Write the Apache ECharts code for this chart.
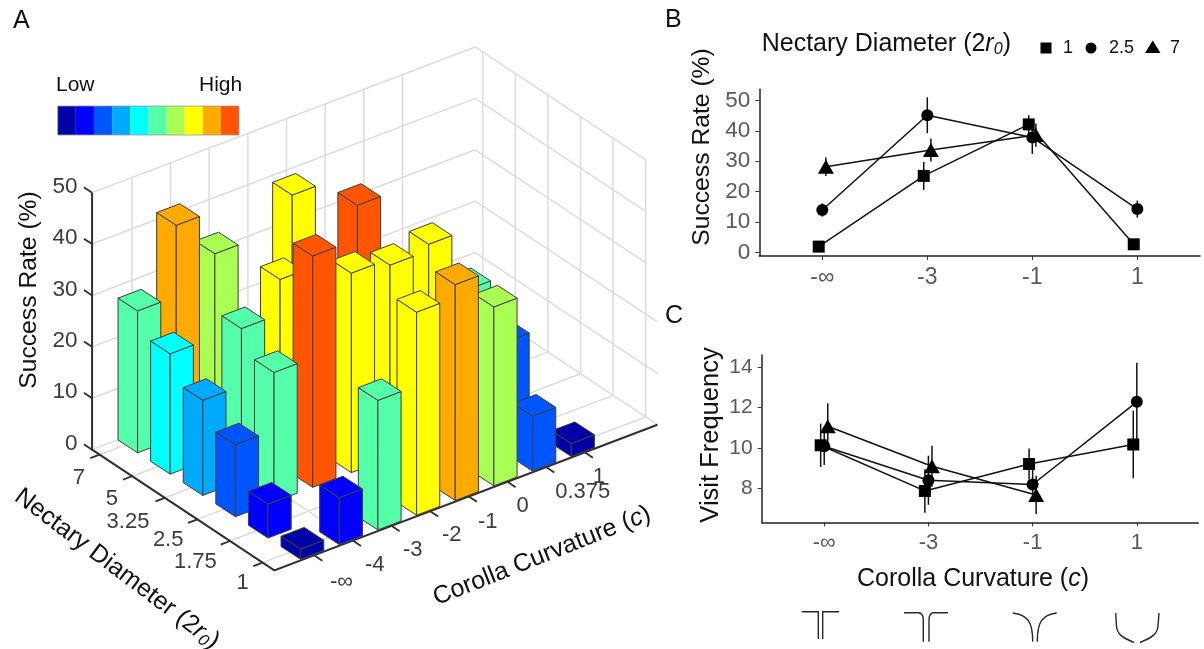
<!DOCTYPE html>
<html>
<head>
<meta charset="utf-8">
<style>html,body{margin:0;padding:0;background:#fff}#c{width:1204px;height:649px}</style>
<script src="https://cdn.jsdelivr.net/npm/echarts@6/dist/echarts.min.js"></script>
</head>
<body>
<div id="c"></div>
<script>
// ---------- data: panel A ----------
const curvatureLabels = ['-∞', '-4', '-3', '-2', '-1', '0', '0.375', '1'];
const diameterLabels = ['1', '1.75', '2.5', '3.25', '5', '7'];
const successD1    = [2, 9.1, 25.2, 39.5, 42, 34.8, 10.7, 2.5];
const successD175  = [6.6, null, null, null, null, null, null, null];
const successD25   = [14, 25.2, 45, 38.8, 37.5, 38.7, 27, 14];
const successD325  = [18.5, 29.6, 36.3, null, 45, null, null, null];
const successD5    = [23.4, null, null, null, null, null, null, null];
const successD7    = [27.6, 41.4, 33, null, 38.7, null, null, null];
const zTicks = [0, 10, 20, 30, 40, 50];
const palette = ['#0000A6', '#0000FF', '#0055FF', '#00AAFF', '#00FFFF', '#55FFAA', '#AAFF55', '#FFFF00', '#FFAA00', '#FF5500'];

// ---------- data: panels B, C ----------
const panelCurvature = ['-∞', '-3', '-1', '1'];
const successTicks = [0, 10, 20, 30, 40, 50];
const visitTicks = [8, 10, 12, 14];
const bSquare = [2, 25.2, 42.1, 2.75];
const bSquareErr = [0.5, 4.6, 3, 0.5];
const bCircle = [14, 45.1, 37.8, 14.3];
const bCircleErr = [2.2, 5.9, 5.4, 2.8];
const bTriangle = [28.2, 33.7, 38.6];
const bTriangleErr = [3, 3.8, 3.8];
const cSquare = [10.13, 7.86, 9.2, 10.17];
const cSquareErr = [1.08, 1.08, 0.77, 1.68];
const cCircle = [10.08, 8.39, 8.18, 12.29];
const cCircleErr = [0.93, 1.22, 0.73, 1.94];
const cTriangle = [11.08, 9.09, 7.66];
const cTriangleErr = [1.14, 1.02, 0.95];

// ---------- layout ----------
const FONT = '"Liberation Sans", Arial, sans-serif';
const PX_I = 38.66, PX_Z = 5.14, O_X = 302.4, O_Y = 548.5;
const K = -32.6 / PX_I, YA = 14.7 / PX_Z, YB = 21.3 / PX_Z, FRAME_YB = 21.6 / PX_Z, FRAME_DZ = 0.2;
const I0 = -1.03, I1 = 8.88, J0 = -0.36, J1 = 5.23, HALF = 0.3;
const GRID_LINE = '#dcdcdc', AXIS_DARK = '#2f2f2f', EDGE = '#3d3d3d';
const curvatureNudge = [[27.4, 26.3], [22, 24], [21.3, 24], [21.7, 24], [19, 25.6], [15.3, 24.4], [36.7, 25], [14, 25]];
const diameterNudge = [[-20, 20], [-34.6, 21], [-29.2, 21], [-36.8, 24], [-20.4, 23], [-20.6, 23]];
const flowerIcons = [
  'M801.7 611.7 L818.3 611.7 L818.3 639 M839 611.7 L822.7 611.7 L822.7 639',
  'M904 612.7 L919 612.7 Q923.3 613.5 923.3 620 L923.3 641.7 M948 612.7 L933 612.7 Q929 613.5 929 620 L929 641.7',
  'M1012.7 613 C1028 615 1032.7 622 1032.7 641.7 M1056.7 613 C1042 615 1037.3 622 1037.3 641.7',
  'M1115.7 613 L1116.5 626 C1117 634 1122 637.5 1134 642.5 M1159 613 L1158 626 C1157.5 634 1152 637.5 1140 642.5'
];

// bars sit on their own plane, the box frame on a slightly different one, as in the figure
function project(api, i, j, z) {
  return api.coord([i + K * j, z + YA * i + YB * j]);
}
function frameProject(api, i, j, z) {
  return api.coord([i + K * j, z + FRAME_DZ + YA * i + FRAME_YB * j]);
}
function line(pts, color, width) {
  return { type: 'polyline', shape: { points: pts }, style: { stroke: color, lineWidth: width, fill: null }, silent: true };
}
function label(text, p, size, color, align) {
  return { type: 'text', x: p[0], y: p[1], silent: true,
    style: { text: text, fill: color, fontSize: size, fontFamily: FONT, align: align || 'center', verticalAlign: 'middle' } };
}

// ---------- panel A marks ----------
const rows = [successD1, successD175, successD25, successD325, successD5, successD7];
const barData = [];
rows.forEach((row, j) => row.forEach((v, i) => { if (v !== null) barData.push([i, j, v]); }));
barData.sort((a, b) => (b[0] + b[1] * 1.4) - (a[0] + a[1] * 1.4));

function renderBar(params, api) {
  const i = api.value(0), j = api.value(1), v = api.value(2);
  const color = palette[Math.min(palette.length - 1, Math.floor(v / 5))];
  const P = (a, b, z) => project(api, i + a * HALF, j + b * HALF, z);
  const face = pts => ({ type: 'polygon', shape: { points: pts }, silent: true,
    style: { fill: color, stroke: EDGE, lineWidth: 1, lineJoin: 'round' } });
  return { type: 'group', children: [
    face([P(-1, -1, 0), P(-1, 1, 0), P(-1, 1, v), P(-1, -1, v)]),
    face([P(-1, -1, 0), P(1, -1, 0), P(1, -1, v), P(-1, -1, v)]),
    face([P(-1, -1, v), P(1, -1, v), P(1, 1, v), P(-1, 1, v)])
  ] };
}

function renderFrame(params, api) {
  const c = [];
  const F = (i, j, z) => frameProject(api, i, j, z);
  const zMax = zTicks[zTicks.length - 1];
  // walls: horizontal level lines
  zTicks.forEach(z => {
    c.push(line([F(I0, J1, z), F(I1, J1, z)], GRID_LINE, 1.5));
    if (z > 0) {
      const end = z >= 30 ? 0 : J0;
      c.push(line([F(I1, J1, z), F(I1, end, z)], GRID_LINE, 1.5));
    }
  });
  // walls: verticals, floor grid
  curvatureLabels.forEach((t, i) => {
    c.push(line([F(i, J1, 0), F(i, J1, zMax)], GRID_LINE, 1.5));
    c.push(line([F(i, J0, 0), F(i, J1, 0)], GRID_LINE, 1.5));
  });
  diameterLabels.forEach((t, j) => {
    c.push(line([F(I1, j, 0), F(I1, j, zMax)], GRID_LINE, 1.5));
    c.push(line([F(I0, j, 0), F(I1, j, 0)], GRID_LINE, 1.5));
  });
  c.push(line([F(I1, J0, 0), F(I1, J1, 0)], GRID_LINE, 1.5));
  // dark axes
  c.push(line([F(I0, J1, zMax), F(I0, J1, 0), F(I0, J0, 0), F(I1, J0, 0)], AXIS_DARK, 2));
  // z ticks and labels
  zTicks.forEach(z => {
    const base = F(I0, J1, z);
    c.push(line([base, F(I0, J1 + 0.25, z)], AXIS_DARK, 1.8));
    c.push(label(String(z), [77.5, base[1] - 6], 22.5, '#3c3c3c', 'right'));
  });
  // curvature ticks and labels
  curvatureLabels.forEach((t, i) => {
    const base = F(i, J0, 0);
    c.push(line([base, F(i, J0 - 0.25, 0)], AXIS_DARK, 1.8));
    c.push(label(t, [base[0] + curvatureNudge[i][0], base[1] + curvatureNudge[i][1]], 22, '#3c3c3c'));
  });
  // diameter ticks and labels
  diameterLabels.forEach((t, j) => {
    const base = F(I0, j, 0);
    c.push(line([base, F(I0 - 0.24, j, 0)], AXIS_DARK, 1.8));
    c.push(label(t, [base[0] + diameterNudge[j][0], base[1] + diameterNudge[j][1]], 22, '#3c3c3c'));
  });
  // flower profile drawings under panel C
  flowerIcons.forEach(d => c.push({ type: 'path', silent: true, shape: { pathData: d },
    style: { fill: null, stroke: '#2a2a2a', lineWidth: 1.4 } }));
  return { type: 'group', children: c };
}

// ---------- panels B, C series ----------
const DODGE = 0.034;
function errorSeries(name, values, errs, dodge, gridIndex) {
  return {
    type: 'custom', name: name, coordinateSystem: 'cartesian2d', xAxisIndex: gridIndex, yAxisIndex: gridIndex,
    data: values.map((v, k) => [k + dodge, v, errs[k]]), encode: { x: 0, y: 1 }, silent: true, z: 3,
    renderItem: (p, api) => {
      const x = api.value(0), y = api.value(1), e = api.value(2);
      const a = api.coord([x, y - e]), b = api.coord([x, y + e]);
      return { type: 'line', shape: { x1: a[0], y1: a[1], x2: b[0], y2: b[1] }, style: { stroke: '#111', lineWidth: 1.5 } };
    }
  };
}
function lineSeries(name, values, dodge, gridIndex, symbol, size) {
  return {
    type: 'line', name: name, xAxisIndex: gridIndex, yAxisIndex: gridIndex, silent: true, z: 4,
    data: values.map((v, k) => [k + dodge, v]), symbol: symbol, symbolSize: size, showSymbol: true, showAllSymbol: true,
    itemStyle: { color: '#000' }, lineStyle: { color: '#111', width: 1.5 }, emphasis: { disabled: true }
  };
}
function panelXAxis(gridIndex, min, max, fontSize, margin) {
  return {
    gridIndex: gridIndex, type: 'value', min: min, max: max, splitLine: { show: false },
    axisLine: { show: true, onZero: false, lineStyle: { color: '#222', width: 1.5 } },
    axisTick: { show: true, length: 4, customValues: [0, 1, 2, 3], lineStyle: { color: '#333', width: 1 } },
    axisLabel: { show: true, customValues: [0, 1, 2, 3], formatter: v => panelCurvature[v], color: '#5a5a5a', fontSize: fontSize, fontFamily: FONT, margin: margin }
  };
}
function panelYAxis(gridIndex, min, max, ticks, fontSize, margin) {
  return {
    gridIndex: gridIndex, type: 'value', min: min, max: max, splitLine: { show: false },
    axisLine: { show: true, onZero: false, lineStyle: { color: '#222', width: 1.5 } },
    axisTick: { show: true, length: 4, customValues: ticks, lineStyle: { color: '#333', width: 1 } },
    axisLabel: { show: true, customValues: ticks, color: '#5a5a5a', fontSize: fontSize, fontFamily: FONT, margin: margin }
  };
}

// ---------- text, legend ----------
const rich = size => ({
  n: { fontSize: size, fontFamily: FONT, color: '#111' },
  i: { fontSize: size, fontFamily: FONT, fontStyle: 'italic', color: '#111' },
  s: { fontSize: size * 0.65, fontFamily: FONT, fontStyle: 'italic', color: '#111', padding: [size * 0.42, 0, 0, 0] }
});
function titleText(text, x, y, size, rotation, align) {
  return { type: 'text', x: x, y: y, rotation: rotation || 0, silent: true, z: 20,
    style: { text: text, fill: '#111', fontSize: size, fontFamily: FONT, align: align || 'center', verticalAlign: 'middle', rich: rich(size) } };
}
const D2R = Math.PI / 180;
const graphics = [
  titleText('A', 13, 21, 25, 0, 'left'),
  titleText('B', 665, 20, 25, 0, 'left'),
  titleText('C', 665, 316, 25, 0, 'left'),
  titleText('Low', 56, 85, 21, 0, 'left'),
  titleText('High', 199, 85, 21, 0, 'left'),
  titleText('Success Rate (%)', 29.5, 290, 24.7, 90 * D2R),
  titleText('{n|Nectary Diameter (2}{i|r}{s|0}{n|)}', 117, 569, 25, -37 * D2R),
  titleText('{n|Corolla Curvature (}{i|c}{n|)}', 542, 556, 25, 21.7 * D2R),
  titleText('{n|Nectary Diameter (2}{i|r}{s|0}{n|)}', 761.7, 44, 25, 0, 'left'),
  titleText('Success Rate (%)', 702, 147, 24.7, 90 * D2R),
  titleText('Visit Frequency', 711, 435, 25.5, 90 * D2R),
  titleText('{n|Corolla Curvature (}{i|c}{n|)}', 973, 579, 25, 0),
  // legend
  { type: 'rect', silent: true, z: 20, shape: { x: 1040.5, y: 42.5, width: 11, height: 11 }, style: { fill: '#000' } },
  titleText('1', 1068, 48, 18),
  { type: 'circle', silent: true, z: 20, shape: { cx: 1091, cy: 48, r: 5.5 }, style: { fill: '#000' } },
  titleText('2.5', 1121.5, 48, 18),
  { type: 'polygon', silent: true, z: 20, shape: { points: [[1145, 53], [1160.5, 53], [1152.7, 40.5]] }, style: { fill: '#000' } },
  titleText('7', 1175, 48, 18)
];
palette.forEach((c, k) => graphics.push({ type: 'rect', silent: true, z: 20,
  shape: { x: 57.7 + k * 18.13, y: 106, width: 18.13, height: 29 }, style: { fill: c } }));
graphics.push({ type: 'rect', silent: true, z: 21, shape: { x: 57.7, y: 106, width: 181.3, height: 29 }, style: { fill: null, stroke: '#999', lineWidth: 0.8 } });

// ---------- chart ----------
const chart = echarts.init(document.getElementById('c'), null, { renderer: 'canvas' });
chart.setOption({
  animation: false,
  backgroundColor: '#fff',
  grid: [
    { left: 759.3, top: 89.3, width: 440.7, height: 166.7, containLabel: false },
    { left: 761.7, top: 355, width: 436.6, height: 167.3, containLabel: false },
    { left: O_X - 7 * PX_I, top: O_Y - 100 * PX_Z, width: 17 * PX_I, height: 118 * PX_Z, containLabel: false }
  ],
  xAxis: [
    panelXAxis(0, -0.6, 3.597, 23, 10),
    panelXAxis(1, -0.6, 3.59, 22, 10),
    { gridIndex: 2, type: 'value', min: -7, max: 10, show: false, splitLine: { show: false } }
  ],
  yAxis: [
    panelYAxis(0, -1.083, 53.61, successTicks, 22.5, 9),
    panelYAxis(1, 6.3, 14.62, visitTicks, 21, 9),
    { gridIndex: 2, type: 'value', min: -18, max: 100, show: false, splitLine: { show: false } }
  ],
  graphic: { elements: graphics },
  series: [
    { type: 'custom', name: 'frame', coordinateSystem: 'cartesian2d', xAxisIndex: 2, yAxisIndex: 2, silent: true, z: 1,
      data: [[0, 0]], encode: { x: 0, y: 1 }, renderItem: renderFrame },
    { type: 'custom', name: 'success surface', coordinateSystem: 'cartesian2d', xAxisIndex: 2, yAxisIndex: 2, silent: true, z: 2,
      data: barData, dimensions: ['c', 'd', 'rate'], encode: { x: 0, y: 2 }, renderItem: renderBar },

    errorSeries('B 1 err', bSquare, bSquareErr, -DODGE, 0),
    errorSeries('B 2.5 err', bCircle, bCircleErr, 0, 0),
    errorSeries('B 7 err', bTriangle, bTriangleErr, DODGE, 0),
    lineSeries('B 1', bSquare, -DODGE, 0, 'rect', 12),
    lineSeries('B 2.5', bCircle, 0, 0, 'circle', 12),
    lineSeries('B 7', bTriangle, DODGE, 0, 'triangle', [16, 14]),

    errorSeries('C 1 err', cSquare, cSquareErr, -DODGE, 1),
    errorSeries('C 2.5 err', cCircle, cCircleErr, 0, 1),
    errorSeries('C 7 err', cTriangle, cTriangleErr, DODGE, 1),
    lineSeries('C 1', cSquare, -DODGE, 1, 'rect', 12),
    lineSeries('C 2.5', cCircle, 0, 1, 'circle', 12),
    lineSeries('C 7', cTriangle, DODGE, 1, 'triangle', [16, 14])
  ]
});
</script>
</body>
</html>
